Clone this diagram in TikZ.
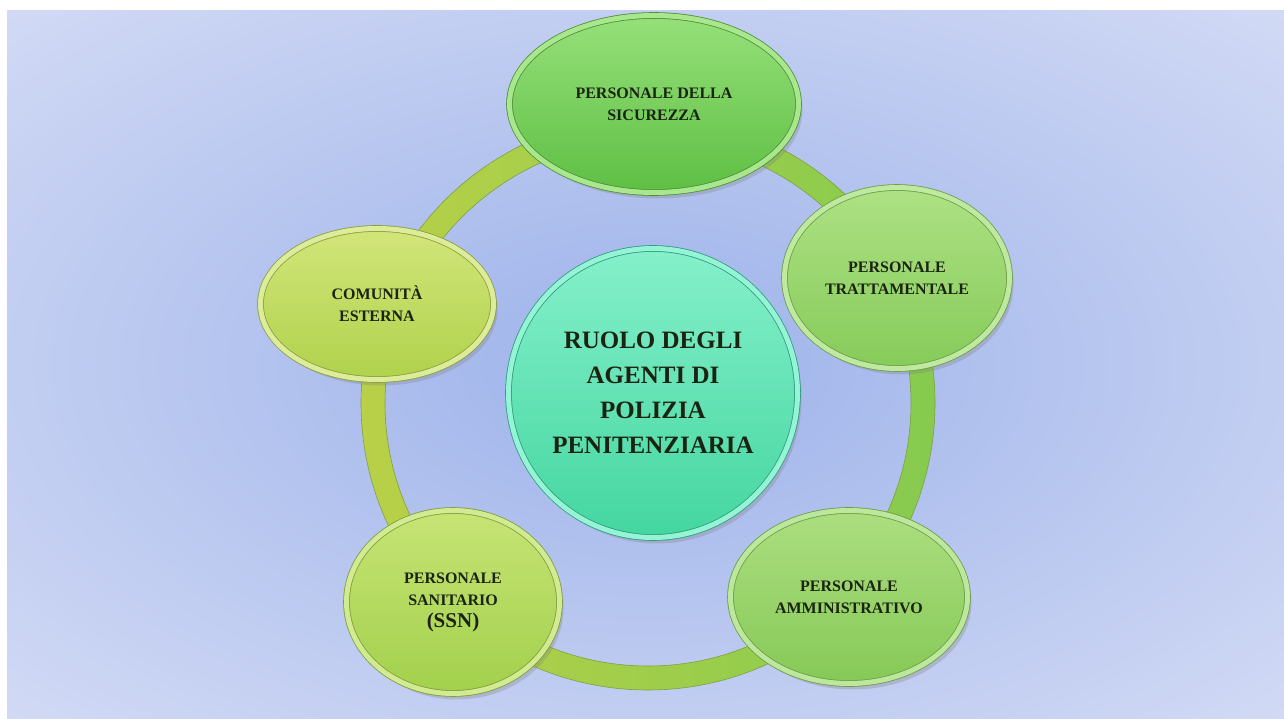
\documentclass[tikz,border=0pt]{standalone}
\usepackage{fontspec}
\setmainfont{Liberation Serif}
\usetikzlibrary{positioning,shapes,shadows}

\definecolor{bgmid}{HTML}{A6B9EC}
\definecolor{bgedge}{HTML}{DEE3F7}
\definecolor{textdark}{HTML}{1B2412}
\definecolor{ringleft}{HTML}{B9D048}
\definecolor{ringright}{HTML}{86CB4E}
\definecolor{ringedge}{HTML}{7FA040}
\pgfdeclareradialshading{bgglow}{\pgfpointorigin}{color(0bp)=(bgmid); color(6bp)=(bgmid); color(44bp)=(bgedge); color(60bp)=(bgedge)}

\begin{document}
\begin{tikzpicture}[x = 1pt, y = 1pt, node distance = 200pt, semithick]
\tikzstyle{bubble}=[
  ellipse,
  line width = 0.8pt,
  double distance = 5pt,
  inner sep = 0pt,
  align = center,
  text = textdark,
  font = \fontsize{16}{22}\selectfont\bfseries,
  drop shadow = {shadow xshift = 4pt, shadow yshift = -6pt, opacity = 0.3}
]
\tikzstyle{hub}=[
  bubble,
  circle,
  minimum size = 289pt,
  font = \fontsize{25}{35}\selectfont\bfseries
]

% background
\useasboundingbox (0,0) rectangle (1284,718);
\fill[white] (0,0) rectangle (1284,718);
\shade[shading = bgglow] (7,0) rectangle (1284,707);

% ring
\coordinate (O) at (648,315);
\shade[left color = ringleft, right color = ringright, even odd rule] (O) circle (287pt) (O) circle (263pt);
\draw[ringedge, line width = 0.6pt] (O) circle (287pt) (O) circle (263pt);

\node[hub, top color = {rgb,255:red,133;green,240;blue,203}, bottom color = {rgb,255:red,68;green,214;blue,160},
  draw = {rgb,255:red,47;green,156;blue,124}, double = {rgb,255:red,149;green,244;blue,214}] (R) at (653,325)
  {RUOLO DEGLI\\AGENTI DI\\POLIZIA\\PENITENZIARIA};

\node[bubble, minimum width = 289pt, minimum height = 177pt,
  top color = {rgb,255:red,150;green,224;blue,122}, bottom color = {rgb,255:red,94;green,191;blue,68},
  draw = {rgb,255:red,79;green,143;blue,53}, double = {rgb,255:red,169;green,231;blue,143}]
  (S) [above of = R, xshift = 1pt, yshift = 89pt] {PERSONALE DELLA\\SICUREZZA};
\node[bubble, minimum width = 225pt, minimum height = 181pt,
  top color = {rgb,255:red,174;green,225;blue,132}, bottom color = {rgb,255:red,134;green,203;blue,90},
  draw = {rgb,255:red,106;green,158;blue,69}, double = {rgb,255:red,191;green,233;blue,160}]
  (T) [right of = R, xshift = 44pt, yshift = 115pt] {PERSONALE\\TRATTAMENTALE};
\node[bubble, minimum width = 237pt, minimum height = 173pt,
  top color = {rgb,255:red,172;green,222;blue,128}, bottom color = {rgb,255:red,134;green,201;blue,87},
  draw = {rgb,255:red,106;green,158;blue,69}, double = {rgb,255:red,189;green,231;blue,156}]
  (A) [below of = R, xshift = 196pt, yshift = -4pt] {PERSONALE\\AMMINISTRATIVO};
\node[bubble, minimum width = 213pt, minimum height = 183pt,
  top color = {rgb,255:red,199;green,228;blue,117}, bottom color = {rgb,255:red,162;green,208;blue,76},
  draw = {rgb,255:red,126;green,158;blue,58}, double = {rgb,255:red,210;green,235;blue,147}]
  (N) [below of = R, xshift = -200pt, yshift = -9pt] {PERSONALE\\SANITARIO\\{\fontsize{21}{24}\selectfont (SSN)}};
\node[bubble, minimum width = 233pt, minimum height = 151pt,
  top color = {rgb,255:red,210;green,229;blue,122}, bottom color = {rgb,255:red,176;green,210;blue,76},
  draw = {rgb,255:red,138;green,159;blue,60}, double = {rgb,255:red,220;green,236;blue,154}]
  (C) [left of = R, xshift = -76pt, yshift = 89pt] {COMUNITÀ\\ESTERNA};
\end{tikzpicture}
\end{document}
